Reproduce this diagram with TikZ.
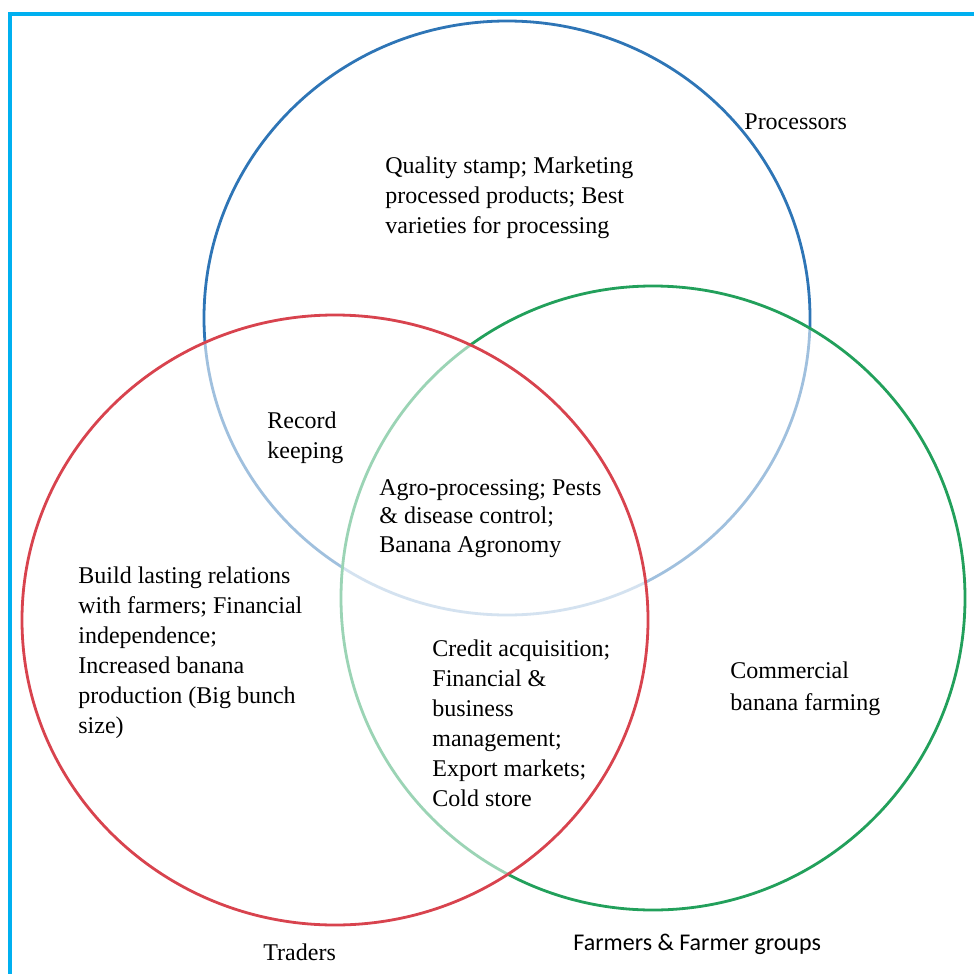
\documentclass[tikz,border=0pt]{standalone}
\usepackage{fontspec}
\setmainfont{Liberation Serif}
\newfontfamily\timesfont{Liberation Serif}
\newfontfamily\calibrifont{Carlito}
\definecolor{procblue}{HTML}{2E75B6}
\definecolor{tradered}{HTML}{D8434E}
\definecolor{farmgreen}{HTML}{22A05B}
\definecolor{framecyan}{HTML}{00B0F0}

\begin{document}
\begin{tikzpicture}[
      x=0.5pt,y=-0.5pt,
      ring/.style={line width=1.4pt,fill=white,fill opacity=0.55},
      txt/.style={anchor=north west,inner sep=0pt,align=left,font=\timesfont\fontsize{12}{15}\selectfont},
      lbl/.style={anchor=base west,inner sep=0pt,font=\timesfont\fontsize{12}{15}\selectfont}
    ]
    \useasboundingbox (0,0) rectangle (974,974);
    \draw[framecyan,line width=2pt] (10,1000) -- (10,14) -- (1000,14);
    % the ring drawn later lies over the others
    \draw[ring,draw=procblue] (507,318) ellipse [x radius=303,y radius=297];
    \draw[ring,draw=farmgreen] (653,598) ellipse [x radius=312,y radius=312];
    \draw[ring,draw=tradered] (335,620) ellipse [x radius=313,y radius=305];
    % group names
    \node[lbl] (procname) at (744,129) {Processors};
    \node[lbl] (tradername) at (263,960) {Traders};
    \node[lbl,font=\calibrifont\fontsize{12}{15}\selectfont] (farmname) at (573,950) {Farmers \& Farmer groups};
    % areas
    \node[txt] (proconly) at (385,156) {Quality stamp; Marketing\\processed products; Best\\varieties for processing};
    \node[txt] (proctrade) at (267,411) {Record\\keeping};
    \node[txt,font=\timesfont\fontsize{12}{14.25}\selectfont] (allthree) at (379,479) {Agro-processing; Pests\\\& disease control;\\Banana Agronomy};
    \node[txt] (tradeonly) at (78,566) {Build lasting relations\\with farmers; Financial\\independence;\\Increased banana\\production (Big bunch\\size)};
    \node[txt] (tradefarm) at (432,639) {Credit acquisition;\\Financial \&\\business\\management;\\Export markets;\\Cold store};
    \node[txt,font=\timesfont\fontsize{12}{16}\selectfont] (farmonly) at (730,661) {Commercial\\banana farming};
  \end{tikzpicture}
\end{document}
